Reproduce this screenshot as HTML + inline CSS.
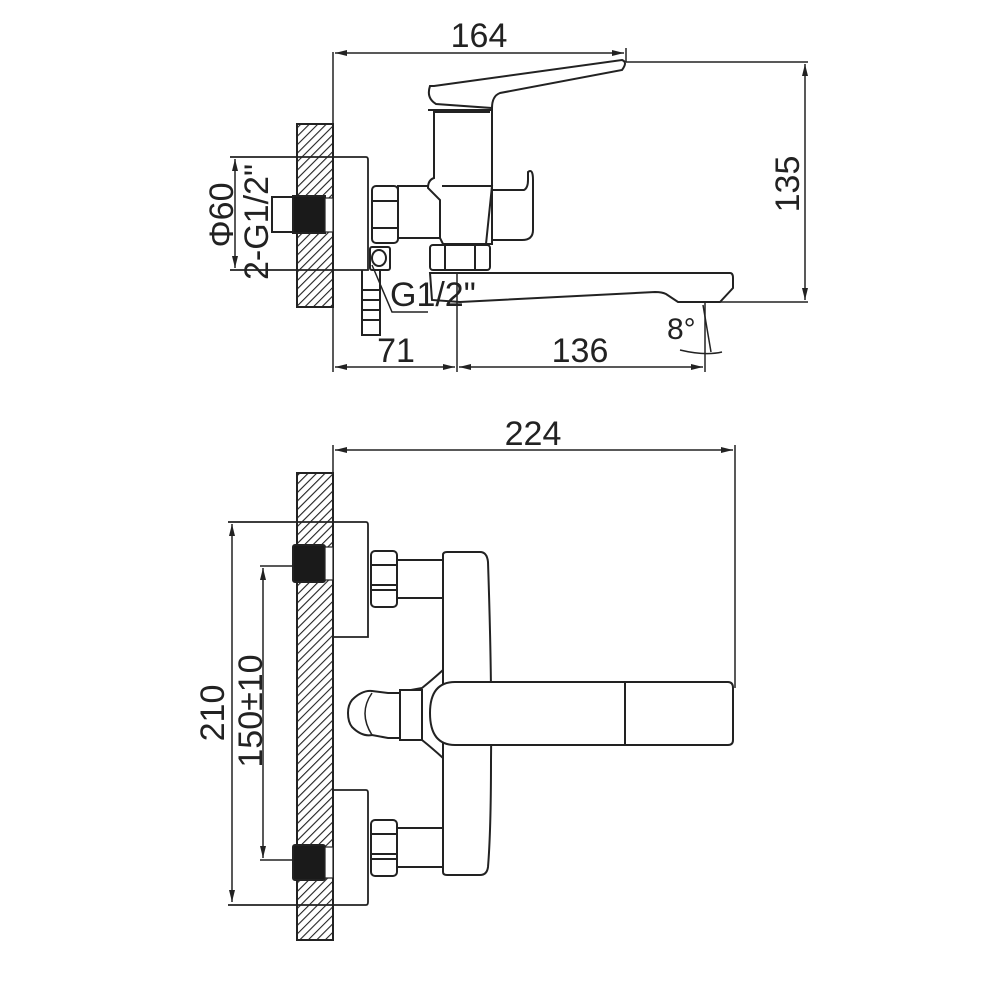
<!DOCTYPE html>
<html><head><meta charset="utf-8"><style>
html,body{margin:0;padding:0;background:#fff;}
svg{display:block;}
text{font-family:"Liberation Sans",sans-serif;fill:#222;}
</style></head><body>
<svg width="1000" height="1000" viewBox="0 0 1000 1000" xmlns="http://www.w3.org/2000/svg">
<defs>
<pattern id="h" width="6" height="6" patternUnits="userSpaceOnUse" patternTransform="rotate(45)">
<rect width="6" height="6" fill="#fff"/><line x1="0" y1="0" x2="0" y2="6" stroke="#222" stroke-width="2.2"/>
</pattern>
<marker id="a" viewBox="0 0 12 6" refX="12" refY="3" markerWidth="12" markerHeight="6" orient="auto-start-reverse" markerUnits="userSpaceOnUse"><path d="M0,0 L12,3 L0,6 Z" fill="#222"/></marker>
</defs>
<g fill="none" stroke="#222" stroke-width="2">
<!-- ============ TOP VIEW ============ -->
<rect x="297" y="124" width="36" height="183" fill="url(#h)"/>
<line x1="333" y1="52" x2="333" y2="372" stroke-width="1.5"/>
<line x1="335" y1="53" x2="624" y2="53" stroke-width="1.5" marker-start="url(#a)" marker-end="url(#a)"/>
<line x1="626" y1="48" x2="626" y2="62" stroke-width="1.5"/>
<line x1="626" y1="62" x2="808" y2="62" stroke-width="1.5"/>
<line x1="805" y1="64" x2="805" y2="300" stroke-width="1.5" marker-start="url(#a)" marker-end="url(#a)"/>
<line x1="700" y1="302" x2="808" y2="302" stroke-width="1.5"/>
<!-- escutcheon -->
<path d="M230,157 H366 Q368,157 368,160 V270 H230" stroke-width="1.8"/>
<rect x="272" y="197" width="25" height="35" fill="#fff"/>
<rect x="293" y="196" width="32" height="37" fill="#1a1a1a"/>
<rect x="325" y="198" width="8" height="34" fill="#fff" stroke-width="1.2"/>
<line x1="235" y1="159" x2="235" y2="268" stroke-width="1.5" marker-start="url(#a)" marker-end="url(#a)"/>
<!-- nut -->
<rect x="372" y="186" width="26" height="57" rx="4"/>
<line x1="372" y1="201" x2="398" y2="201"/><line x1="372" y1="228" x2="398" y2="228"/>
<rect x="398" y="186" width="44" height="52"/>
<!-- body -->
<path d="M428,110 H492 V244 H443 L440,238 V200 L428,188 Q428,180 434,178 V110 Z" fill="#fff"/>
<path d="M434,112 H490 M442,186 H492 L486,244" />
<!-- handle lever -->
<path d="M434,86 L622,60 Q628,62 622,70 L500,93 Q492,96 492,108 L436,104 Q426,98 430,86 Z" fill="#fff"/>
<path d="M492,190 H524 Q528,188 528,180 V172 Q533,168 533,180 V230 Q533,240 522,240 H492"/>
<rect x="430" y="245" width="60" height="25" rx="3"/>
<line x1="445" y1="245" x2="445" y2="270"/><line x1="475" y1="245" x2="475" y2="270"/>
<!-- spout -->
<path d="M430,273 H730 Q733,273 733,278 V288 L720,302 H678 L666,294 Q662,292 655,292 L460,302 L432,300 Z" fill="#fff"/>
<line x1="678" y1="302" x2="700" y2="302"/>
<rect x="370" y="247" width="20" height="23" rx="2"/>
<ellipse cx="379" cy="258" rx="7" ry="8"/>
<path d="M362,270 V335 H380 V270"/>
<line x1="362" y1="290" x2="380" y2="290"/><line x1="362" y1="300" x2="380" y2="300"/><line x1="362" y1="310" x2="380" y2="310"/><line x1="362" y1="320" x2="380" y2="320"/>
<path d="M372,265 L392,312 H428" stroke-width="1.5"/>
<line x1="705" y1="303" x2="705" y2="372" stroke-width="1.5"/>
<line x1="703" y1="305" x2="711" y2="352" stroke-width="1.5"/>
<path d="M680,350 Q705,356 722,352" stroke-width="1.5"/>
<line x1="457" y1="272" x2="457" y2="372" stroke-width="1.5"/>
<line x1="335" y1="367" x2="455" y2="367" stroke-width="1.5" marker-start="url(#a)" marker-end="url(#a)"/>
<line x1="459" y1="367" x2="703" y2="367" stroke-width="1.5" marker-start="url(#a)" marker-end="url(#a)"/>

<!-- ============ BOTTOM VIEW ============ -->
<rect x="297" y="473" width="36" height="467" fill="url(#h)"/>
<line x1="333" y1="445" x2="333" y2="473" stroke-width="1.5"/>
<line x1="335" y1="450" x2="733" y2="450" stroke-width="1.5" marker-start="url(#a)" marker-end="url(#a)"/>
<line x1="735" y1="445" x2="735" y2="688" stroke-width="1.5"/>
<path d="M228,522 H366 Q368,522 368,525 V637 H333" stroke-width="1.8"/>
<path d="M333,790 H366 Q368,790 368,793 V902 Q368,905 366,905 H228" stroke-width="1.8"/>
<line x1="260" y1="566" x2="297" y2="566" stroke-width="1.5"/>
<line x1="260" y1="860" x2="297" y2="860" stroke-width="1.5"/>
<rect x="293" y="545" width="32" height="37" rx="2" fill="#1a1a1a"/>
<rect x="325" y="547" width="8" height="33" fill="#fff" stroke-width="1.2"/>
<rect x="293" y="845" width="32" height="35" rx="2" fill="#1a1a1a"/>
<rect x="325" y="847" width="8" height="31" fill="#fff" stroke-width="1.2"/>
<line x1="232" y1="524" x2="232" y2="902" stroke-width="1.5" marker-start="url(#a)" marker-end="url(#a)"/>
<line x1="263" y1="568" x2="263" y2="858" stroke-width="1.5" marker-start="url(#a)" marker-end="url(#a)"/>
<rect x="371" y="551" width="26" height="56" rx="4"/>
<line x1="371" y1="565" x2="397" y2="565"/><line x1="371" y1="585" x2="397" y2="585"/><line x1="371" y1="590" x2="397" y2="590"/>
<rect x="371" y="820" width="26" height="56" rx="4"/>
<line x1="371" y1="834" x2="397" y2="834"/><line x1="371" y1="854" x2="397" y2="854"/><line x1="371" y1="859" x2="397" y2="859"/>
<rect x="397" y="560" width="46" height="38"/>
<rect x="397" y="828" width="46" height="39"/>
<path d="M443,555 Q443,552 447,552 H480 Q487,552 488,562 Q492,680 491,760 Q491,830 488,867 Q487,875 480,875 H447 Q443,875 443,872 Z" fill="#fff"/>
<path d="M455,682 H728 Q733,682 733,688 V740 Q733,745 728,745 H455 Q430,745 430,713 Q430,682 455,682 Z" fill="#fff"/>
<line x1="625" y1="682" x2="625" y2="745"/>
<path d="M443,670 Q432,680 422,688 L400,692 L400,738 L422,740 Q432,748 443,758"/>
<rect x="400" y="690" width="22" height="50" fill="#fff"/>
<path d="M400,693 H388 L372,691 Q362,690 352,700 Q348,705 348,713 Q348,722 352,727 Q362,737 372,735 L388,738 H400"/>
<path d="M372,693 Q358,713 372,735" stroke-width="1.5"/>
</g>
<text x="479" y="47" font-size="34" text-anchor="middle">164</text>
<text transform="translate(799,184) rotate(-90)" font-size="34" text-anchor="middle">135</text>
<text transform="translate(233,215) rotate(-90)" font-size="34" text-anchor="middle">Φ60</text>
<text transform="translate(268,222) rotate(-90)" font-size="34" text-anchor="middle">2-G1/2"</text>
<text x="390" y="306" font-size="34">G1/2"</text>
<text x="396" y="362" font-size="34" text-anchor="middle">71</text>
<text x="580" y="362" font-size="34" text-anchor="middle">136</text>
<text x="667" y="339" font-size="30">8°</text>
<text x="533" y="445" font-size="34" text-anchor="middle">224</text>
<text transform="translate(224,713) rotate(-90)" font-size="34" text-anchor="middle">210</text>
<text transform="translate(262,711) rotate(-90)" font-size="34" text-anchor="middle">150±10</text>
</svg>
</body></html>
